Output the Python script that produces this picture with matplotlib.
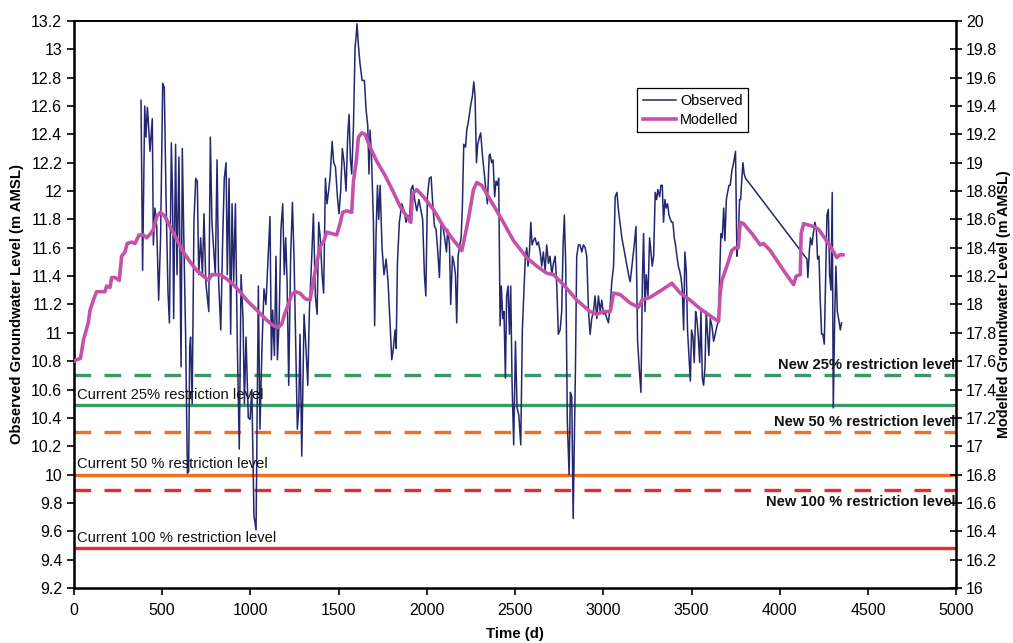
import matplotlib
matplotlib.use("Agg")
import matplotlib.pyplot as plt
from matplotlib.ticker import MultipleLocator, FuncFormatter
from matplotlib.lines import Line2D

plt.rcParams['font.family'] = ['Liberation Sans', 'DejaVu Sans']

# ---- Observed groundwater level (left axis, m AMSL) ----
obs_day = [380, 389, 401, 408, 416, 423, 431, 444, 450, 459, 469, 480, 491, 503, 512, 522, 533, 541, 552, 559,
           565, 576, 584, 595, 607, 614, 624, 633, 643, 650, 656, 661, 670, 680, 690, 699, 707, 718, 728, 737,
           747, 764, 773, 782, 801, 811, 820, 832, 843, 852, 862, 869, 879, 888, 896, 905, 915, 926, 937, 947,
           958, 966, 975, 988, 998, 1008, 1020, 1032, 1045, 1054, 1066, 1077, 1088, 1111, 1119, 1126, 1136, 1145, 1153, 1163,
           1173, 1183, 1192, 1200, 1208, 1217, 1228, 1238, 1247, 1255, 1266, 1274, 1281, 1291, 1304, 1315, 1325, 1334, 1345, 1357,
           1368, 1378, 1387, 1396, 1406, 1415, 1425, 1434, 1442, 1451, 1463, 1472, 1482, 1493, 1502, 1512, 1521, 1531, 1542, 1551,
           1559, 1567, 1574, 1584, 1593, 1599, 1604, 1612, 1621, 1633, 1646, 1655, 1665, 1672, 1678, 1686, 1697, 1704, 1712, 1720,
           1727, 1735, 1746, 1757, 1769, 1780, 1791, 1801, 1810, 1820, 1826, 1833, 1844, 1858, 1871, 1882, 1892, 1901, 1910, 1920,
           1931, 1943, 1955, 1967, 1976, 1986, 1994, 2003, 2014, 2024, 2033, 2043, 2052, 2062, 2071, 2081, 2090, 2101, 2111, 2118,
           2128, 2135, 2145, 2154, 2162, 2169, 2177, 2184, 2194, 2201, 2209, 2219, 2226, 2234, 2241, 2249, 2258, 2266, 2273, 2281,
           2288, 2298, 2305, 2315, 2324, 2334, 2343, 2353, 2358, 2367, 2375, 2384, 2392, 2400, 2407, 2415, 2422, 2430, 2437, 2445,
           2452, 2460, 2468, 2475, 2483, 2492, 2502, 2511, 2521, 2532, 2541, 2551, 2558, 2566, 2573, 2581, 2589, 2596, 2604, 2613,
           2623, 2632, 2642, 2651, 2660, 2670, 2679, 2689, 2698, 2708, 2717, 2727, 2736, 2745, 2755, 2764, 2772, 2779, 2787, 2796,
           2806, 2813, 2821, 2829, 2834, 2842, 2849, 2859, 2868, 2878, 2887, 2897, 2906, 2916, 2925, 2934, 2944, 2953, 2963, 2972,
           2982, 2991, 3001, 3010, 3020, 3029, 3039, 3048, 3058, 3067, 3077, 3086, 3105, 3124, 3143, 3152, 3162, 3175, 3185, 3194,
           3203, 3213, 3222, 3228, 3236, 3243, 3253, 3262, 3270, 3277, 3285, 3294, 3302, 3309, 3319, 3326, 3334, 3341, 3349, 3356,
           3364, 3372, 3380, 3387, 3394, 3402, 3409, 3417, 3425, 3432, 3440, 3447, 3455, 3462, 3470, 3477, 3485, 3493, 3500, 3508,
           3515, 3523, 3530, 3538, 3546, 3553, 3561, 3568, 3576, 3583, 3591, 3598, 3606, 3615, 3625, 3634, 3644, 3652, 3659, 3666,
           3674, 3682, 3689, 3697, 3704, 3712, 3719, 3728, 3738, 3749, 3757, 3764, 3772, 3778, 3785, 3791, 3798, 3806, 4154, 4159,
           4167, 4174, 4182, 4190, 4199, 4207, 4214, 4222, 4229, 4237, 4244, 4252, 4260, 4267, 4275, 4282, 4290, 4297, 4303, 4311,
           4318, 4326, 4333, 4343, 4350]
obs_level = [12.64, 11.44, 12.60, 12.38, 12.59, 12.46, 12.28, 12.51, 11.62, 11.88, 11.75, 11.23, 11.67, 12.76, 12.73, 11.94, 11.28, 11.07, 12.34, 11.94,
             11.10, 12.33, 11.41, 12.24, 10.76, 12.30, 11.57, 10.97, 10.01, 10.02, 10.90, 10.97, 10.50, 11.78, 12.09, 12.07, 11.41, 11.67, 11.41, 11.84,
             11.36, 11.15, 12.38, 11.78, 11.41, 12.22, 11.36, 11.02, 11.67, 12.09, 12.20, 11.41, 12.09, 10.99, 11.91, 11.36, 11.91, 10.90, 10.18, 11.41,
             11.10, 10.50, 10.97, 10.40, 10.39, 10.60, 9.71, 9.61, 11.33, 10.32, 10.92, 11.31, 11.20, 11.82, 10.81, 11.16, 10.84, 11.54, 10.81, 11.10,
             11.73, 11.91, 11.41, 11.67, 11.36, 10.63, 11.54, 11.92, 11.54, 11.02, 10.32, 10.47, 10.99, 10.13, 11.13, 10.89, 10.63, 11.15, 11.46, 11.84,
             11.26, 11.13, 11.78, 11.67, 11.41, 11.28, 12.09, 11.91, 11.99, 12.09, 12.35, 12.20, 12.17, 11.96, 11.84, 12.01, 12.30, 12.20, 12.00, 12.38,
             12.54, 12.22, 12.12, 12.46, 13.01, 13.09, 13.18, 13.03, 12.90, 12.78, 12.78, 12.58, 12.46, 12.12, 12.43, 12.25, 11.78, 11.05, 11.70, 12.04,
             11.80, 12.04, 11.60, 11.41, 11.52, 11.36, 11.07, 10.81, 10.89, 11.02, 10.89, 11.49, 11.78, 11.91, 11.86, 11.78, 11.83, 11.78, 12.01, 12.04,
             11.94, 11.86, 11.94, 11.86, 11.80, 11.41, 11.26, 11.96, 12.09, 12.10, 11.91, 11.75, 11.73, 11.57, 11.39, 11.78, 11.75, 11.67, 11.57, 11.73,
             11.62, 11.20, 11.54, 11.49, 11.41, 11.07, 11.54, 11.60, 11.67, 11.88, 12.33, 12.31, 12.43, 12.48, 12.54, 12.61, 12.67, 12.77, 12.67, 12.20,
             12.33, 12.38, 12.41, 12.25, 12.14, 12.01, 11.91, 12.25, 12.26, 12.20, 12.22, 11.96, 12.07, 12.04, 12.09, 11.05, 11.33, 11.10, 11.15, 10.68,
             11.26, 11.33, 10.99, 11.33, 10.63, 10.21, 10.94, 10.47, 10.42, 10.21, 11.02, 11.33, 11.54, 11.60, 11.47, 11.57, 11.78, 11.62, 11.65, 11.67,
             11.62, 11.64, 11.57, 11.47, 11.57, 11.44, 11.62, 11.49, 11.54, 11.41, 11.49, 11.54, 11.33, 10.99, 11.02, 11.15, 11.62, 11.83, 11.47, 10.37,
             10.00, 10.58, 10.55, 9.69, 10.11, 10.76, 11.54, 11.62, 11.62, 11.57, 11.62, 11.60, 11.54, 11.15, 10.99, 11.10, 11.15, 11.26, 11.10, 11.26,
             11.15, 11.23, 11.13, 11.15, 11.10, 11.07, 11.20, 11.36, 11.47, 11.96, 11.99, 11.86, 11.67, 11.54, 11.41, 11.36, 11.47, 11.62, 11.75, 10.94,
             10.76, 10.58, 11.41, 11.70, 11.15, 11.41, 11.26, 11.67, 11.57, 11.47, 11.54, 11.99, 11.94, 12.01, 11.96, 12.04, 12.04, 11.78, 11.94, 11.88,
             11.91, 11.83, 11.80, 11.78, 11.78, 11.67, 11.62, 11.54, 11.47, 11.44, 11.39, 11.31, 11.02, 11.57, 11.44, 11.02, 10.84, 10.66, 11.02, 10.97,
             10.79, 11.15, 11.10, 10.97, 10.79, 11.15, 10.68, 10.63, 10.76, 11.15, 10.99, 10.84, 11.10, 11.05, 10.94, 10.99, 11.05, 11.08, 11.39, 11.70,
             11.67, 11.88, 11.65, 11.94, 11.99, 12.04, 12.04, 12.14, 12.20, 12.28, 11.54, 11.65, 11.94, 11.94, 12.09, 12.20, 12.12, 12.09, 11.52, 11.39,
             11.57, 11.67, 11.62, 11.70, 11.78, 11.73, 11.52, 11.54, 11.23, 10.99, 10.99, 10.92, 11.41, 11.83, 11.87, 11.41, 11.30, 11.99, 10.47, 11.10,
             11.47, 11.15, 11.10, 11.02, 11.07]

# ---- Modelled groundwater level (right axis, m AMSL) ----
mod_day = [0, 15, 37, 54, 70, 81, 91, 110, 128, 157, 176, 185, 204, 214, 233, 257, 270, 289, 302, 327,
           346, 369, 393, 412, 435, 450, 469, 491, 516, 544, 582, 620, 658, 696, 733, 762, 781, 828, 866, 903,
           941, 979, 1036, 1092, 1130, 1159, 1177, 1196, 1215, 1234, 1253, 1281, 1310, 1338, 1357, 1376, 1395, 1414, 1433, 1461,
           1489, 1508, 1523, 1546, 1574, 1584, 1599, 1612, 1631, 1650, 1678, 1716, 1763, 1811, 1849, 1886, 1909, 1918, 1943, 1980,
           2037, 2094, 2150, 2198, 2217, 2235, 2264, 2283, 2311, 2358, 2415, 2491, 2566, 2623, 2680, 2718, 2774, 2850, 2925, 2963,
           3001, 3039, 3058, 3095, 3152, 3199, 3218, 3265, 3303, 3341, 3388, 3436, 3492, 3549, 3605, 3653, 3662, 3672, 3700, 3728,
           3747, 3765, 3776, 3794, 3842, 3889, 3908, 3946, 4021, 4078, 4093, 4116, 4121, 4135, 4163, 4191, 4220, 4248, 4286, 4324,
           4339, 4358]
mod_level = [17.60, 17.61, 17.62, 17.75, 17.82, 17.87, 17.96, 18.03, 18.09, 18.09, 18.09, 18.13, 18.12, 18.19, 18.19, 18.17, 18.34, 18.37, 18.43, 18.44,
             18.43, 18.49, 18.49, 18.47, 18.50, 18.53, 18.62, 18.65, 18.62, 18.55, 18.46, 18.37, 18.30, 18.24, 18.20, 18.17, 18.21, 18.21, 18.18, 18.14,
             18.09, 18.03, 17.96, 17.89, 17.85, 17.84, 17.86, 17.94, 18.00, 18.07, 18.09, 18.08, 18.04, 18.03, 18.17, 18.29, 18.41, 18.44, 18.51, 18.50,
             18.49, 18.57, 18.65, 18.66, 18.65, 18.87, 19.00, 19.18, 19.21, 19.20, 19.11, 19.01, 18.91, 18.79, 18.69, 18.62, 18.58, 18.78, 18.81, 18.76,
             18.67, 18.55, 18.455, 18.38, 18.49, 18.60, 18.81, 18.86, 18.84, 18.74, 18.62, 18.45, 18.33, 18.27, 18.22, 18.21, 18.14, 18.03, 17.95, 17.93,
             17.95, 17.95, 18.08, 18.07, 18.01, 17.98, 18.03, 18.05, 18.08, 18.11, 18.15, 18.08, 18.03, 17.97, 17.92, 17.88, 18.08, 18.17, 18.27, 18.38,
             18.40, 18.40, 18.58, 18.57, 18.50, 18.42, 18.43, 18.38, 18.24, 18.14, 18.20, 18.21, 18.50, 18.57, 18.56, 18.55, 18.53, 18.48, 18.41, 18.33,
             18.35, 18.35]

# ---- Restriction levels (left axis, m AMSL) ----
current_levels = [10.49, 10.00, 9.48]
current_labels = ["Current 25% restriction level", "Current 50 % restriction level", "Current 100 % restriction level"]
new_levels = [10.70, 10.30, 9.89]
new_labels = ["New 25% restriction level", "New 50 % restriction level", "New 100 % restriction level"]
level_colors = ["#3a9a66", "#f26f22", "#ee2a2a"]

fig = plt.figure(figsize=(10.13, 6.43), dpi=100)
ax = fig.add_axes([0.073, 0.0855, 0.871, 0.882])
ax2 = ax.twinx()

for lv, col in zip(current_levels, level_colors):
    ax.axhline(lv, color=col, lw=2.4, zorder=2)
for lv, col in zip(new_levels, level_colors):
    ax.axhline(lv, color=col, lw=2.4, ls=(0, (5, 4)), zorder=2)

ax.plot(obs_day, obs_level, color="#24266e", lw=1.1, zorder=3)
ax2.plot(mod_day, mod_level, color="#c452aa", lw=2.6, zorder=4)

ax.set_xlim(0, 5000)
ax.set_ylim(9.2, 13.2)
ax2.set_ylim(16, 20)

ax.xaxis.set_major_locator(MultipleLocator(500))
ax.yaxis.set_major_locator(MultipleLocator(0.2))
ax2.yaxis.set_major_locator(MultipleLocator(0.2))
fmt = FuncFormatter(lambda v, p: f"{v:.1f}".rstrip('0').rstrip('.'))
ax.yaxis.set_major_formatter(fmt)
ax2.yaxis.set_major_formatter(fmt)

ax.tick_params(axis='both', labelsize=11.5, direction='out', length=5, width=1.2, colors='black')
ax.tick_params(axis='x', pad=6)
ax2.tick_params(axis='y', labelsize=11.5, direction='inout', length=8, width=1.2, pad=3, colors='black')

for s in ['left', 'bottom']:
    ax.spines[s].set_linewidth(1.8)
ax.spines['top'].set_linewidth(1.2)
ax2.spines['right'].set_linewidth(1.8)
ax2.spines['top'].set_linewidth(1.2)

cur_offsets = [0.025, 0.027, 0.026]
for lv, lab, off in zip(current_levels, current_labels, cur_offsets):
    ax.text(20, lv + off, lab, fontsize=10.6, ha='left', va='bottom', color='#111111', zorder=5)
new_offsets = [0.025, 0.025, -0.035]
new_vas = ['bottom', 'bottom', 'top']
for lv, lab, off, va in zip(new_levels, new_labels, new_offsets, new_vas):
    ax.text(4995, lv + off, lab, fontsize=10.6, fontweight='bold', ha='right', va=va, color='#111111', zorder=5)

ax.set_xlabel("Time (d)", fontsize=10.8, fontweight='bold', labelpad=6)
fig.text(0.017, 0.527, "Observed Groundwater Level (m AMSL)", rotation=90, ha='center', va='center',
         fontsize=10.7, fontweight='bold')
fig.text(0.9915, 0.527, "Modelled Groundwater Level (m AMSL)", rotation=90, ha='center', va='center',
         fontsize=10.4, fontweight='bold')

handles = [Line2D([0], [0], color="#24266e", lw=1.1), Line2D([0], [0], color="#c452aa", lw=2.6)]
leg = ax.legend(handles, ["Observed", "Modelled"], loc='upper left', bbox_to_anchor=(0.638, 0.882),
                borderaxespad=0, fancybox=False, framealpha=1, edgecolor='black', fontsize=10.4,
                handlelength=2.3, handletextpad=0.3, borderpad=0.4, labelspacing=0.35)
leg.get_frame().set_linewidth(0.9)
leg.set_zorder(10)

fig.savefig("out.png", dpi=100)
